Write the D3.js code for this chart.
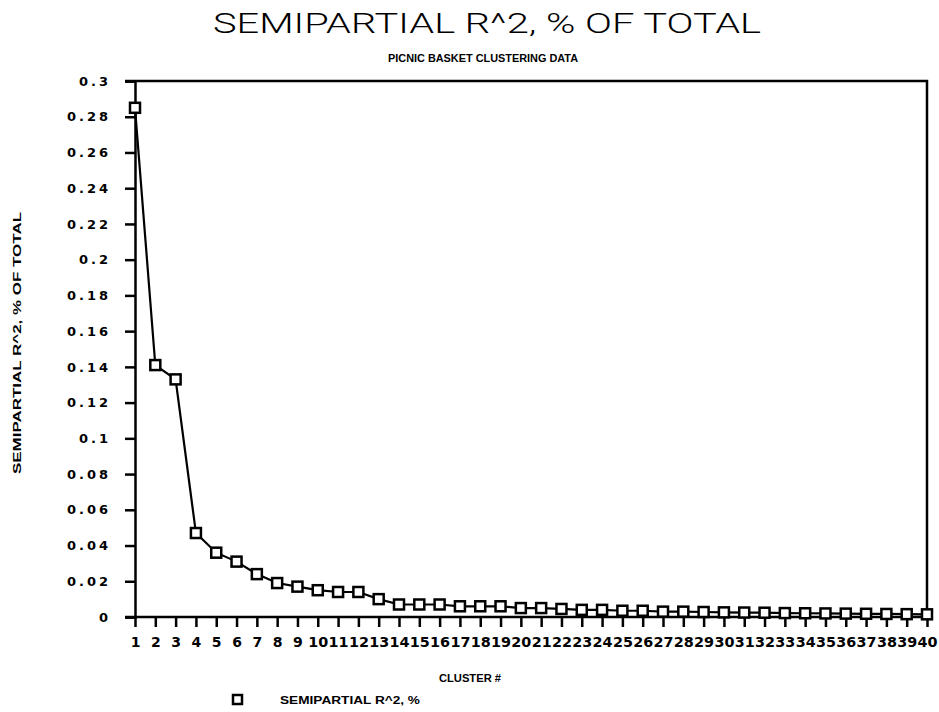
<!doctype html>
<html lang="en">
<head>
    <meta charset="UTF-8">
    <title>Semipartial R^2</title>
    <script src="https://d3js.org/d3.v7.min.js"></script>
    <style>
        body { margin: 0; background: #fff; }
        svg { display: block; background: #fff; }
        text { font-family: "Liberation Sans", Arial, sans-serif; fill: #000; }
        .tick-lbl { font-weight: bold; font-size: 13px; }
    </style>
</head>
<body>
<script>
    var width = 939;
    var height = 712;

    // cluster numbers and the semipartial R^2 for each
    var clusters = d3.range(1, 41);
    var semipartial = [0.285, 0.141, 0.133, 0.047, 0.036, 0.031, 0.024, 0.019, 0.017, 0.015,
                       0.014, 0.014, 0.010, 0.007, 0.007, 0.007, 0.006, 0.006, 0.006, 0.005,
                       0.005, 0.0045, 0.004, 0.004, 0.0035, 0.0035, 0.003, 0.003, 0.0028, 0.0026,
                       0.0025, 0.0024, 0.0022, 0.0021, 0.002, 0.0019, 0.0018, 0.0017, 0.0016, 0.0015];
    var yTicks = [0, 0.02, 0.04, 0.06, 0.08, 0.1, 0.12, 0.14, 0.16, 0.18, 0.2, 0.22, 0.24, 0.26, 0.28, 0.3];
    var yTickLabels = ['0', '0.02', '0.04', '0.06', '0.08', '0.1', '0.12', '0.14', '0.16', '0.18',
                       '0.2', '0.22', '0.24', '0.26', '0.28', '0.3'];

    // plot box edges
    var padL = 135, padR = 927, padT = 81, padB = 617;

    var svg = d3.select('body').append('svg')
        .attr('width', width)
        .attr('height', height);

    var x = d3.scaleLinear().domain([1, 40]).range([padL, padR]);
    var y = d3.scaleLinear().domain([0, 0.3]).range([padB, padT]);

    // titles
    svg.append('text')
        .attr('x', 487).attr('y', 33)
        .attr('text-anchor', 'middle')
        .attr('textLength', 548)
        .attr('lengthAdjust', 'spacingAndGlyphs')
        .style('font-size', '28px')
        .style('font-family', 'Roboto, "DejaVu Sans", sans-serif')
        .style('font-weight', '300')
        .text('SEMIPARTIAL R^2, % OF TOTAL');

    svg.append('text')
        .attr('x', 483).attr('y', 62)
        .attr('text-anchor', 'middle')
        .attr('textLength', 190)
        .attr('lengthAdjust', 'spacingAndGlyphs')
        .style('font-size', '11px')
        .style('font-weight', 'bold')
        .text('PICNIC BASKET CLUSTERING DATA');

    // frame: top and right sides
    svg.append('path')
        .attr('d', 'M' + (padL - 10) + ',' + padT + 'H' + padR + 'V' + padB)
        .attr('fill', 'none')
        .attr('stroke', '#000')
        .attr('stroke-width', 2.5);

    // y axis
    var yAxis = svg.append('g')
        .attr('transform', 'translate(' + padL + ',0)')
        .call(d3.axisLeft(y).tickValues(yTicks).tickSize(10).tickPadding(14)
            .tickFormat(function(d, i){ return yTickLabels[i]; }));
    yAxis.select('.domain').attr('stroke-width', 2.5);
    yAxis.selectAll('.tick line').attr('stroke-width', 2.5);
    yAxis.selectAll('.tick text')
        .attr('class', 'tick-lbl')
        .attr('fill', '#000')
        .style('letter-spacing', '3px')
        .style('font-family', '"DejaVu Sans", sans-serif')
        .style('font-size', '13px');

    // x axis
    var xAxis = svg.append('g')
        .attr('transform', 'translate(0,' + padB + ')')
        .call(d3.axisBottom(x).tickValues(clusters).tickSize(10).tickPadding(10)
            .tickSizeOuter(0).tickFormat(d3.format('d')));
    xAxis.select('.domain')
        .attr('d', 'M' + (padL - 10) + ',0H' + padR)
        .attr('stroke-width', 2.5);
    xAxis.selectAll('.tick line').attr('stroke-width', 2.5);
    xAxis.selectAll('.tick text')
        .attr('class', 'tick-lbl')
        .attr('fill', '#000')
        .style('font-family', '"DejaVu Sans", sans-serif')
        .style('font-size', '14px')
        .attr('textLength', function(d){ return d < 10 ? null : 20; })
        .attr('lengthAdjust', 'spacingAndGlyphs');

    // axis titles
    svg.append('text')
        .attr('transform', 'translate(21,343) rotate(-90)')
        .attr('text-anchor', 'middle')
        .attr('textLength', 262)
        .attr('lengthAdjust', 'spacingAndGlyphs')
        .style('font-size', '11px')
        .style('font-weight', 'bold')
        .text('SEMIPARTIAL R^2, % OF TOTAL');

    svg.append('text')
        .attr('x', 470).attr('y', 682)
        .attr('text-anchor', 'middle')
        .attr('textLength', 62)
        .attr('lengthAdjust', 'spacingAndGlyphs')
        .style('font-size', '11px')
        .style('font-weight', 'bold')
        .text('CLUSTER #');

    // series line and square markers
    var pts = clusters.map(function(c, i){ return {c: c, v: semipartial[i]}; });

    svg.append('path')
        .datum(pts)
        .attr('fill', 'none')
        .attr('stroke', '#000')
        .attr('stroke-width', 2.2)
        .attr('d', d3.line()
            .x(function(d){ return x(d.c); })
            .y(function(d){ return y(d.v); }));

    svg.append('g')
        .selectAll('rect')
        .data(pts)
        .enter().append('rect')
        .attr('x', function(d){ return x(d.c) - 5; })
        .attr('y', function(d){ return y(d.v) - 5; })
        .attr('width', 10)
        .attr('height', 10)
        .attr('fill', '#fff')
        .attr('stroke', '#000')
        .attr('stroke-width', 2.5);

    // legend
    svg.append('rect')
        .attr('x', 233).attr('y', 695)
        .attr('width', 9).attr('height', 9)
        .attr('fill', '#fff')
        .attr('stroke', '#000')
        .attr('stroke-width', 2.5);

    svg.append('text')
        .attr('x', 280).attr('y', 704)
        .attr('textLength', 140)
        .attr('lengthAdjust', 'spacingAndGlyphs')
        .style('font-size', '11px')
        .style('font-weight', 'bold')
        .text('SEMIPARTIAL R^2, %');
</script>
</body>
</html>
